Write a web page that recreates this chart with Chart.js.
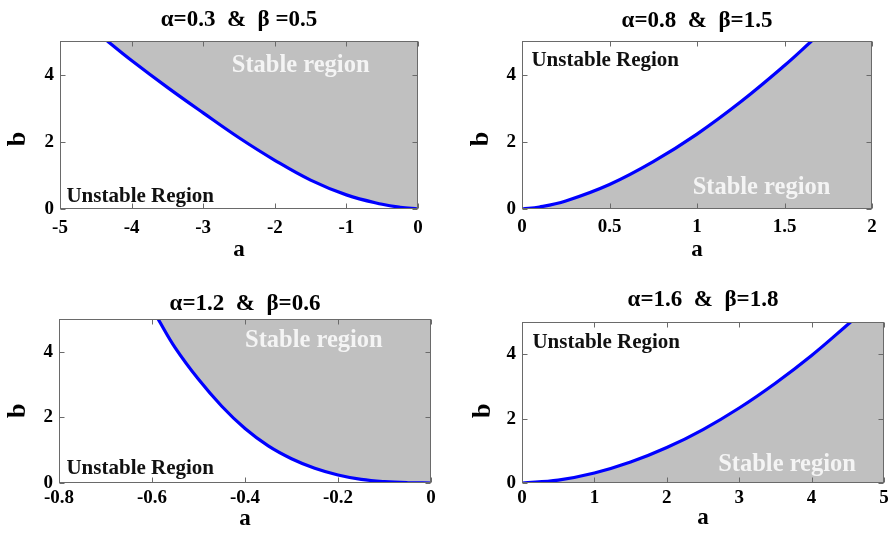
<!DOCTYPE html>
<html>
<head>
<meta charset="utf-8">
<script src="https://cdn.jsdelivr.net/npm/chart.js@4.4.1/dist/chart.umd.min.js"></script>
<style>
  html, body { margin: 0; padding: 0; background: #ffffff; }
  #wrap { position: relative; width: 893px; height: 540px; overflow: hidden; background: #ffffff; }
  .cell { position: absolute; }
  canvas { display: block; }
</style>
</head>
<body>
<div id="wrap">
  <div class="cell" style="left:0px;top:0px"><canvas id="c1" width="450" height="270"></canvas></div>
  <div class="cell" style="left:450px;top:0px"><canvas id="c2" width="443" height="270"></canvas></div>
  <div class="cell" style="left:0px;top:270px"><canvas id="c3" width="450" height="270"></canvas></div>
  <div class="cell" style="left:450px;top:270px"><canvas id="c4" width="443" height="270"></canvas></div>
</div>
<script>
// Stability boundary b(a) for four (α, β) pairs
const titles = ['α=0.3  &  β =0.5', 'α=0.8  &  β=1.5', 'α=1.2  &  β=0.6', 'α=1.6  &  β=1.8'];

// α=0.3, β=0.5
const a1 = [-4.34, -4, -3.5, -3, -2.5, -2, -1.5, -1, -0.5, -0.25, 0];
const b1 = [5, 4.42, 3.62, 2.86, 2.12, 1.45, 0.86, 0.42, 0.14, 0.05, 0];

// α=0.8, β=1.5
const a2 = [0, 0.1, 0.25, 0.5, 0.75, 1, 1.25, 1.5, 1.655];
const b2 = [0, 0.06, 0.24, 0.73, 1.41, 2.23, 3.19, 4.27, 5];

// α=1.2, β=0.6
const a3 = [-0.587, -0.55, -0.5, -0.45, -0.4, -0.35, -0.3, -0.25, -0.2, -0.15, -0.1, -0.05, 0];
const b3 = [5, 4.12, 3.16, 2.34, 1.66, 1.13, 0.74, 0.45, 0.245, 0.11, 0.04, 0.008, 0];

// α=1.6, β=1.8
const a4 = [0, 0.5, 1, 1.5, 2, 2.5, 3, 3.5, 4, 4.54];
const b4 = [0, 0.09, 0.31, 0.65, 1.1, 1.66, 2.33, 3.1, 3.96, 5];

// Tick labels
const xTicks1 = [-5, -4, -3, -2, -1, 0];
const xTicks2 = [0, 0.5, 1, 1.5, 2];
const xTicks3 = [-0.8, -0.6, -0.4, -0.2, 0];
const xTicks4 = [0, 1, 2, 3, 4, 5];
const yTicks = [0, 2, 4];

const FAMILY = "'Liberation Serif', 'Times New Roman', Times, serif";
const GRAY = '#c0c0c0';
const TITLE_SIZE = 23;

// Panel layout: canvas size, plot rectangle, label placement
const panels = [
  { id: 'c1', a: a1, b: b1, xTicks: xTicks1, xMin: -5, xMax: 0, stable: 'above', title: titles[0],
    w: 450, h: 270, area: { l: 60, t: 41, r: 418, b: 209 },
    titlePad: 6.5, tickPad: 8, aPad: 5.7, bPos: { x: 25, y: 139 },
    stableAt: { x: -2.60, y: 4.09 }, unstableAt: { x: -4.91, y: 0.22 } },
  { id: 'c2', a: a2, b: b2, xTicks: xTicks2, xMin: 0, xMax: 2, stable: 'below', title: titles[1],
    w: 443, h: 270, area: { l: 72, t: 41, r: 422, b: 209 },
    titlePad: 6.9, tickPad: 6.5, aPad: 5.7, bPos: { x: 38.3, y: 139 },
    stableAt: { x: 0.975, y: 0.45 }, unstableAt: { x: 0.054, y: 4.27 } },
  { id: 'c3', a: a3, b: b3, xTicks: xTicks3, xMin: -0.8, xMax: 0, stable: 'above', title: titles[2],
    w: 450, h: 270, area: { l: 59, t: 49, r: 431, b: 213 },
    titlePad: 20.1, tickPad: 4, aPad: 7.3, bPos: { x: 25, y: 140.8 },
    stableAt: { x: -0.40, y: 4.15 }, unstableAt: { x: -0.784, y: 0.27 } },
  { id: 'c4', a: a4, b: b4, xTicks: xTicks4, xMin: 0, xMax: 5, stable: 'below', title: titles[3],
    w: 443, h: 270, area: { l: 72, t: 52, r: 434, b: 213 },
    titlePad: 15.9, tickPad: 4, aPad: 8, bPos: { x: 40, y: 140.8 },
    stableAt: { x: 2.71, y: 0.36 }, unstableAt: { x: 0.144, y: 4.18 } }
];

// Grey plot background for panels whose stable side lies below the boundary
const plotBackground = {
  id: 'plotBackground',
  beforeDatasetsDraw(chart, args, opts) {
    if (!opts.color) return;
    const { ctx, chartArea: { left, top, right, bottom } } = chart;
    ctx.save();
    ctx.fillStyle = opts.color;
    ctx.fillRect(left, top, right - left, bottom - top);
    ctx.restore();
  }
};

// Frame with inward tick marks, region captions and the rotated "b" label
const decor = {
  id: 'decor',
  afterDatasetsDraw(chart, args, opts) {
    const { ctx, chartArea, scales } = chart;
    const { left, top, right, bottom } = chartArea;
    const xs = scales.x, ys = scales.y;
    const L = Math.round(left) + 0.5, R = Math.round(right) - 0.5;
    const T = Math.round(top) + 0.5, B = Math.round(bottom) - 0.5;
    ctx.save();
    ctx.strokeStyle = '#6a6a6a';
    ctx.lineWidth = 1;
    ctx.strokeRect(L, T, R - L, B - T);
    const len = 5;
    ctx.beginPath();
    xs.ticks.forEach(t => {
      const px = Math.round(xs.getPixelForValue(t.value)) + 0.5;
      ctx.moveTo(px, B); ctx.lineTo(px, B - len);
      ctx.moveTo(px, T); ctx.lineTo(px, T + len);
    });
    ys.ticks.forEach(t => {
      const py = Math.round(ys.getPixelForValue(t.value)) + 0.5;
      ctx.moveTo(L, py); ctx.lineTo(L + len, py);
      ctx.moveTo(R, py); ctx.lineTo(R - len, py);
    });
    ctx.stroke();

    // region captions
    ctx.textAlign = 'left';
    ctx.textBaseline = 'alphabetic';
    ctx.font = 'bold 24.5px ' + FAMILY;
    ctx.fillStyle = '#f4f4f4';
    ctx.fillText('Stable region', xs.getPixelForValue(opts.stableAt.x), ys.getPixelForValue(opts.stableAt.y));
    ctx.font = 'bold 21px ' + FAMILY;
    ctx.fillStyle = '#111111';
    ctx.fillText('Unstable Region', xs.getPixelForValue(opts.unstableAt.x), ys.getPixelForValue(opts.unstableAt.y));

    // vertical axis name
    ctx.translate(opts.bPos.x, opts.bPos.y);
    ctx.rotate(-Math.PI / 2);
    ctx.textAlign = 'center';
    ctx.textBaseline = 'alphabetic';
    ctx.font = 'bold 26px ' + FAMILY;
    ctx.fillStyle = '#000000';
    ctx.fillText('b', 0, 0);
    ctx.restore();
  }
};

function build(p) {
  const pts = p.a.map((x, i) => ({ x, y: p.b[i] }));
  const above = p.stable === 'above';
  const datasets = [{
    data: pts,
    borderColor: '#0000ff',
    borderWidth: 3.2,
    pointRadius: 0,
    tension: 0.4,
    // fill the side of the boundary toward the top edge: grey if stable, white if unstable
    fill: 'end',
    backgroundColor: above ? GRAY : '#ffffff'
  }];
  const tickFont = { family: FAMILY, size: 19, weight: 'bold' };
  new Chart(document.getElementById(p.id), {
    type: 'line',
    data: { datasets },
    plugins: [plotBackground, decor],
    options: {
      responsive: false,
      animation: false,
      devicePixelRatio: 1,
      layout: { padding: { left: 0, right: p.w - p.area.r, top: 0, bottom: 0 } },
      plugins: {
        legend: { display: false },
        tooltip: { enabled: false },
        title: {
          display: true,
          text: p.title,
          fullSize: false,
          color: '#000000',
          font: { family: FAMILY, size: TITLE_SIZE, weight: 'bold', lineHeight: 1.2 },
          padding: { top: p.titlePad, bottom: p.area.t - TITLE_SIZE * 1.2 - p.titlePad }
        },
        plotBackground: { color: above ? null : GRAY },
        decor: { stableAt: p.stableAt, unstableAt: p.unstableAt, bPos: p.bPos }
      },
      scales: {
        x: {
          type: 'linear',
          min: p.xMin,
          max: p.xMax,
          afterBuildTicks: s => { s.ticks = p.xTicks.map(v => ({ value: v })); },
          afterFit: s => { s.height = p.h - p.area.b; },
          grid: { display: false, drawTicks: false },
          border: { display: false },
          ticks: { padding: p.tickPad, color: '#000000', font: tickFont, maxRotation: 0, autoSkip: false,
                   callback: v => String(v) },
          title: { display: true, text: 'a', color: '#000000',
                   font: { family: FAMILY, size: 23, weight: 'bold', lineHeight: 1.2 },
                   padding: { top: 0, bottom: p.aPad } }
        },
        y: {
          type: 'linear',
          min: 0,
          max: 5,
          afterBuildTicks: s => { s.ticks = yTicks.map(v => ({ value: v })); },
          afterFit: s => { s.width = p.area.l; },
          grid: { display: false, drawTicks: false },
          border: { display: false },
          ticks: { padding: 6, color: '#000000', font: tickFont, callback: v => String(v) }
        }
      }
    }
  });
}

panels.forEach(build);
</script>
</body>
</html>
